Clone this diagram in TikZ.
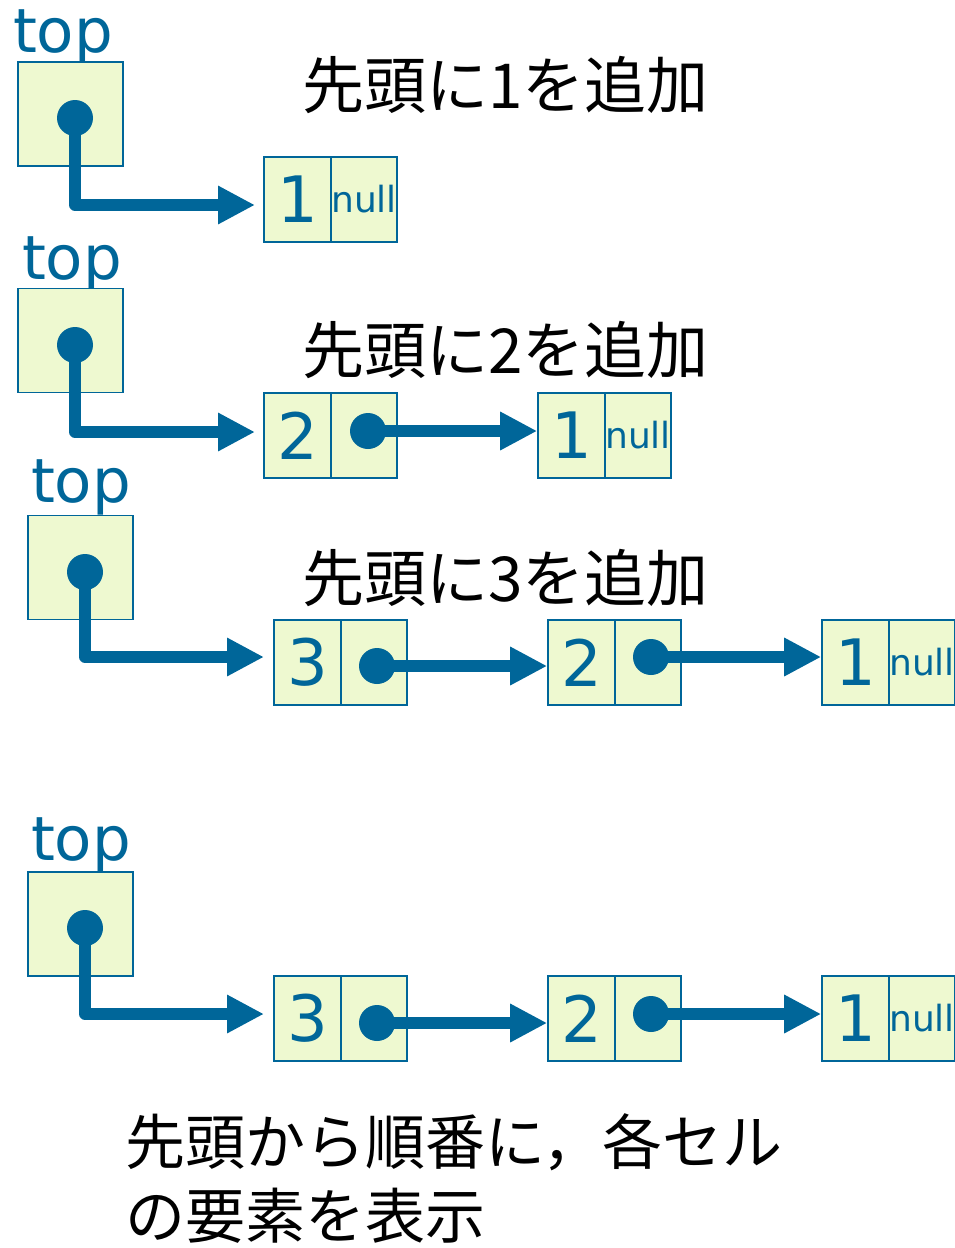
\documentclass[tikz,border=0pt]{standalone}
\usepackage{fontspec}
\setmainfont{DejaVu Sans}
\newfontfamily\jp{Noto Sans CJK JP}
\usetikzlibrary{arrows.meta}
\definecolor{lblue}{RGB}{0,102,153}
\definecolor{lgreen}{RGB}{238,249,208}
\tikzset{
  topbox/.style={draw=lblue,line width=1.6pt,fill=lgreen,minimum width=105pt,minimum height=104pt,inner sep=0pt},
  valcell/.style={draw=lblue,line width=1.6pt,fill=lgreen,minimum width=67pt,minimum height=85pt,inner sep=0pt,text=lblue,font=\fontsize{64}{64}\selectfont},
  ptrcell/.style={draw=lblue,line width=1.6pt,fill=lgreen,minimum width=66pt,minimum height=85pt,inner sep=0pt,text=lblue,font=\fontsize{36}{36}\selectfont},
  toplabel/.style={anchor=base,inner sep=0pt,text=lblue,font=\fontsize{61}{61}\selectfont},
  title/.style={anchor=base west,inner sep=0pt,font=\jp\fontsize{62}{62}\selectfont},
  ptr/.style={draw=lblue,line width=11.5pt,line join=round,-{Triangle[length=37pt,width=36pt]}},
  dotmark/.style={fill=lblue}
}
\begin{document}
\begin{tikzpicture}[x=1pt,y=-1pt]
\useasboundingbox (0,0) rectangle (955,1248);

% ---------- Frame 1 ----------
\node[toplabel] (l1) at (63,52) {top};
\node[topbox] (t1) at (70.5,114) {};
\node[valcell] (a1v) at (297.5,199.5) {1};
\node[ptrcell] (a1p) at (364,199.5) {null};
\node[title] (h1) at (302,108) {先頭に1を追加};
\coordinate (t1d) at (75,118);
\coordinate (e1) at (255,205);
\draw[ptr] (t1d) |- (e1);
\fill[dotmark] (t1d) circle[radius=18pt];

% ---------- Frame 2 ----------
\node[toplabel] (l2) at (72,279) {top};
\node[topbox] (t2) at (70.5,340.5) {};
\node[valcell] (b2v) at (297.5,435.5) {2};
\node[ptrcell] (b2p) at (364,435.5) {};
\node[valcell] (b1v) at (571.5,435.5) {1};
\node[ptrcell] (b1p) at (638,435.5) {null};
\node[title] (h2) at (302,373) {先頭に2を追加};
\coordinate (t2d) at (75,345);
\coordinate (e2) at (255,432);
\coordinate (b2d) at (368,431);
\draw[ptr] (t2d) |- (e2);
\draw[ptr] (b2d) -- (b2d -| b1v.west);
\fill[dotmark] (t2d) circle[radius=18pt];
\fill[dotmark] (b2d) circle[radius=18pt];

% ---------- Frame 3 ----------
\node[toplabel] (l3) at (81,502) {top};
\node[topbox] (t3) at (80.5,567.5) {};
\node[valcell] (c3v) at (307.5,662.5) {3};
\node[ptrcell] (c3p) at (374,662.5) {};
\node[valcell] (c2v) at (581.5,662.5) {2};
\node[ptrcell] (c2p) at (648,662.5) {};
\node[valcell] (c1v) at (855.5,662.5) {1};
\node[ptrcell] (c1p) at (922,662.5) {null};
\node[title] (h3) at (302,601) {先頭に3を追加};
\coordinate (t3d) at (85,572);
\coordinate (e3) at (264,657);
\coordinate (c3d) at (377,666);
\coordinate (c2d) at (651,657);
\draw[ptr] (t3d) |- (e3);
\draw[ptr] (c3d) -- (c3d -| c2v.west);
\draw[ptr] (c2d) -- (c2d -| c1v.west);
\fill[dotmark] (t3d) circle[radius=18pt];
\fill[dotmark] (c3d) circle[radius=18pt];
\fill[dotmark] (c2d) circle[radius=18pt];

% ---------- Frame 4 ----------
\node[toplabel] (l4) at (81,860) {top};
\node[topbox] (t4) at (80.5,924) {};
\node[valcell] (d3v) at (307.5,1018.5) {3};
\node[ptrcell] (d3p) at (374,1018.5) {};
\node[valcell] (d2v) at (581.5,1018.5) {2};
\node[ptrcell] (d2p) at (648,1018.5) {};
\node[valcell] (d1v) at (855.5,1018.5) {1};
\node[ptrcell] (d1p) at (922,1018.5) {null};
\coordinate (t4d) at (85,928);
\coordinate (e4) at (264,1014);
\coordinate (d3d) at (377,1023);
\coordinate (d2d) at (651,1014);
\draw[ptr] (t4d) |- (e4);
\draw[ptr] (d3d) -- (d3d -| d2v.west);
\draw[ptr] (d2d) -- (d2d -| d1v.west);
\fill[dotmark] (t4d) circle[radius=18pt];
\fill[dotmark] (d3d) circle[radius=18pt];
\fill[dotmark] (d2d) circle[radius=18pt];

\node[title,font=\jp\fontsize{60}{60}\selectfont] (f1) at (125,1164) {先頭から順番に，各セル};
\node[title,font=\jp\fontsize{60}{60}\selectfont] (f2) at (125,1238) {の要素を表示};
\end{tikzpicture}
\end{document}
